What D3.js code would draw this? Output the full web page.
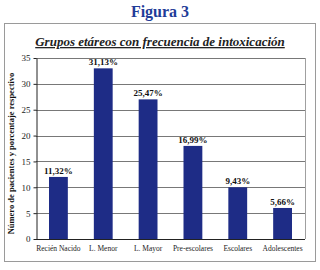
<!DOCTYPE html>
<html>
<head>
<meta charset="utf-8">
<script src="https://cdn.jsdelivr.net/npm/d3@7/dist/d3.min.js"></script>
<style>
  html, body { margin: 0; padding: 0; background: #fff; }
  svg { display: block; font-family: "Liberation Serif", "DejaVu Serif", serif; }
</style>
</head>
<body>
<div id="chart"></div>
<script>
const categories = ["Recién Nacido", "L. Menor", "L. Mayor", "Pre-escolares", "Escolares", "Adolescentes"]
const counts = [12, 33, 27, 18, 10, 6]
const percents = ["11,32%", "31,13%", "25,47%", "16,99%", "9,43%", "5,66%"]
const yTicks = [0, 5, 10, 15, 20, 25, 30, 35]

const W = 320, H = 270
const plot = { left: 36, right: 305, top: 58, bottom: 239 }

const svg = d3.select("#chart").append("svg")
  .attr("width", W).attr("height", H)

// Figure heading
svg.append("text")
  .attr("x", 160).attr("y", 17)
  .attr("text-anchor", "middle")
  .attr("font-size", "16px").attr("font-weight", "bold")
  .attr("fill", "#1f3c98")
  .text("Figura 3")

// Outer frame
svg.append("rect")
  .attr("x", 4.5).attr("y", 23.5).attr("width", 311).attr("height", 238)
  .attr("fill", "#fff").attr("stroke", "#9a9a9a").attr("stroke-width", 1)

// Chart title
svg.append("text")
  .attr("x", 160).attr("y", 46)
  .attr("text-anchor", "middle")
  .attr("font-size", "13px").attr("font-weight", "bold").attr("font-style", "italic")
  .attr("fill", "#222")
  .attr("text-decoration", "underline")
  .text("Grupos etáreos con frecuencia de intoxicación")

const x = d3.scaleBand().domain(categories).range([plot.left, plot.right]).paddingInner(0.58).paddingOuter(0.29)
const y = d3.scaleLinear().domain([0, 35]).range([plot.bottom, plot.top])

// Gridlines
svg.append("g")
  .selectAll("line").data(yTicks.filter(d => d > 0)).join("line")
  .attr("x1", plot.left).attr("x2", plot.right)
  .attr("y1", d => Math.round(y(d)) + 0.5).attr("y2", d => Math.round(y(d)) + 0.5)
  .attr("stroke", "#555").attr("stroke-width", 0.8)

// Right border of plot
svg.append("line")
  .attr("x1", plot.right + 0.5).attr("x2", plot.right + 0.5)
  .attr("y1", plot.top).attr("y2", plot.bottom)
  .attr("stroke", "#888").attr("stroke-width", 0.8)

// Bars
svg.append("g")
  .selectAll("rect").data(categories).join("rect")
  .attr("x", d => x(d))
  .attr("y", (d, i) => y(counts[i]))
  .attr("width", x.bandwidth())
  .attr("height", (d, i) => y(0) - y(counts[i]))
  .attr("fill", "#1e2c86")

// Value labels
svg.append("g")
  .selectAll("text").data(categories).join("text")
  .attr("x", d => x(d) + x.bandwidth() / 2)
  .attr("y", (d, i) => y(counts[i]) - 3)
  .attr("text-anchor", "middle")
  .attr("font-size", "9px").attr("font-weight", "bold")
  .attr("fill", "#111")
  .text((d, i) => percents[i])

// Y axis
const yAxis = svg.append("g")
  .attr("transform", `translate(${plot.left + 0.5},0)`)
  .call(d3.axisLeft(y).tickValues(yTicks).tickSize(3).tickSizeOuter(0))
yAxis.select(".domain").attr("stroke", "#222")
yAxis.selectAll(".tick line").attr("stroke", "#222")
yAxis.selectAll("text").attr("font-size", "9px").attr("fill", "#222")
  .attr("font-family", "Liberation Serif, serif")

// X axis
const xAxis = svg.append("g")
  .attr("transform", `translate(0,${plot.bottom + 0.5})`)
  .call(d3.axisBottom(x).tickSize(0).tickPadding(6))
xAxis.select(".domain").attr("stroke", "#222").attr("d", `M${plot.left},0H${plot.right}`)
xAxis.selectAll("text").attr("font-size", "7.5px").attr("fill", "#222")
  .attr("font-family", "Liberation Serif, serif")

// Y axis label
svg.append("text")
  .attr("transform", `translate(14,${(plot.top + plot.bottom) / 2 + 5}) rotate(-90)`)
  .attr("text-anchor", "middle")
  .attr("font-size", "8.5px").attr("font-weight", "bold")
  .attr("fill", "#111")
  .text("Número de pacientes y porcentaje respectivo")
</script>
</body>
</html>
